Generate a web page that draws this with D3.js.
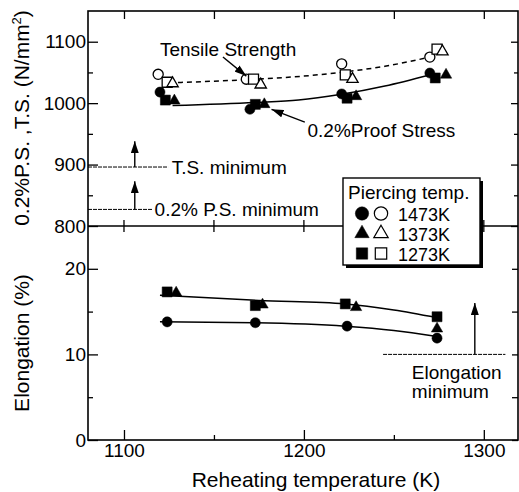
<!DOCTYPE html>
<html>
<head>
<meta charset="utf-8">
<script src="https://cdn.jsdelivr.net/npm/d3@7"></script>
<style>
  body { margin: 0; background: #fff; }
  text { font-family: "Liberation Sans", Arial, Helvetica, sans-serif; fill: #000; }
</style>
</head>
<body>
<script>
// ---- data ----
// tensile strength (open markers), N/mm2
var tsT1473 = [1119, 1168, 1221, 1270], tsV1473 = [1047, 1039, 1064, 1075];
var tsT1373 = [1127, 1176, 1227, 1277], tsV1373 = [1032, 1030, 1039, 1084];
var tsT1273 = [1124, 1172, 1223, 1274], tsV1273 = [1034, 1039, 1046, 1088];
// 0.2% proof stress (filled markers), N/mm2
var psT1473 = [1120, 1170, 1221, 1270], psV1473 = [1018, 990, 1015, 1049];
var psT1373 = [1128, 1178, 1229, 1279], psV1373 = [1004, 998, 1011, 1046];
var psT1273 = [1123, 1173, 1224, 1273], psV1273 = [1005, 998, 1008, 1041];
// elongation (filled markers), %
var elT1473 = [1124, 1173, 1224, 1274], elV1473 = [13.8, 13.7, 13.3, 11.9];
var elT1373 = [1129, 1177, 1229, 1274], elV1373 = [17.2, 15.8, 15.5, 13.0];
var elT1273 = [1124, 1173, 1223, 1274], elV1273 = [17.3, 15.7, 15.9, 14.4];

// fitted curves drawn through the points
var tsFitT = [1125, 1173, 1200, 1220, 1245, 1270], tsFitV = [1033, 1039, 1044, 1050, 1060, 1075];
var psFitT = [1127, 1173, 1197, 1220, 1245, 1270], psFitV = [996, 1001, 1005, 1014, 1028, 1046];
var elHiT = [1120, 1175, 1223, 1250, 1274], elHiV = [16.9, 16.3, 15.9, 15.2, 14.3];
var elLoT = [1120, 1173, 1223, 1250, 1274], elLoV = [13.8, 13.7, 13.3, 12.8, 12.1];

// minimum requirements
var tsMin = 896, psMin = 827, elMin = 10;

// ticks
var xMajor = [1100, 1200, 1300], xMinor = [1150, 1250];
var sMajor = [800, 900, 1000, 1100], sMinor = [850, 950, 1050];
var eMajor = [0, 10, 20], eMinor = [5, 15];

var zip = function(a, b) { return a.map(function(d, i) { return [d, b[i]]; }); };

// ---- svg ----
var W = 519, H = 492;
var svg = d3.select("body").append("svg").attr("width", W).attr("height", H);
svg.append("rect").attr("width", W).attr("height", H).attr("fill", "#fff");

var x = d3.scaleLinear().domain([1080, 1319]).range([88, 518]);
var yS = d3.scaleLinear().domain([800, 1150]).range([226, 11]);
var yE = d3.scaleLinear().domain([0, 25]).range([440, 226]);

var fontF = '"Liberation Sans", Arial, Helvetica, sans-serif';
var fmt = d3.format("d");

function styleAxis(g) {
  g.select(".domain").remove();
  g.attr("font-family", fontF).attr("font-size", 19);
  g.selectAll("line").attr("stroke", "#000").attr("stroke-width", 1.3);
}
var none = function() { return ""; };

// left axes
svg.append("g").attr("transform", "translate(88,0)")
  .call(d3.axisLeft(yS).tickValues(sMajor).tickFormat(fmt).tickSize(-10).tickPadding(2)).call(styleAxis);
svg.append("g").attr("transform", "translate(88,0)")
  .call(d3.axisLeft(yS).tickValues(sMinor).tickSize(-5).tickFormat(none)).call(styleAxis);
svg.append("g").attr("transform", "translate(88,0)")
  .call(d3.axisLeft(yE).tickValues(eMajor).tickFormat(fmt).tickSize(-10).tickPadding(2)).call(styleAxis);
svg.append("g").attr("transform", "translate(88,0)")
  .call(d3.axisLeft(yE).tickValues(eMinor).tickSize(-5).tickFormat(none)).call(styleAxis);

// right axes (ticks only)
svg.append("g").attr("transform", "translate(518,0)")
  .call(d3.axisRight(yS).tickValues(sMajor).tickSize(-7).tickFormat(none)).call(styleAxis);
svg.append("g").attr("transform", "translate(518,0)")
  .call(d3.axisRight(yS).tickValues(sMinor).tickSize(-4).tickFormat(none)).call(styleAxis);
svg.append("g").attr("transform", "translate(518,0)")
  .call(d3.axisRight(yE).tickValues(eMajor.concat(eMinor)).tickSize(-6).tickFormat(none)).call(styleAxis);

// bottom axis
svg.append("g").attr("transform", "translate(0,440)")
  .call(d3.axisBottom(x).tickValues(xMajor).tickFormat(fmt).tickSize(-10).tickPadding(3)).call(styleAxis);
svg.append("g").attr("transform", "translate(0,440)")
  .call(d3.axisBottom(x).tickValues(xMinor).tickSize(-5).tickFormat(none)).call(styleAxis);

// top axis (ticks only)
svg.append("g").attr("transform", "translate(0,11)")
  .call(d3.axisTop(x).tickValues(xMajor.concat(xMinor)).tickSize(-8).tickFormat(none)).call(styleAxis);

// ticks crossing the panel separator
svg.append("g").selectAll("line").data(xMajor.concat(xMinor)).enter().append("line")
  .attr("x1", function(d) { return x(d); }).attr("x2", function(d) { return x(d); })
  .attr("y1", yS(800) - 6).attr("y2", yS(800) + 6)
  .attr("stroke", "#000").attr("stroke-width", 1.3);

// frame
var frame = svg.append("g").attr("fill", "none").attr("stroke", "#000").attr("stroke-width", 1.6);
frame.append("rect").attr("x", 88).attr("y", 11).attr("width", 430).attr("height", 429);
frame.append("line").attr("x1", 88).attr("x2", 518).attr("y1", yS(800)).attr("y2", yS(800));

// ---- fitted curves ----
function fitLine(T, V, y, dash) {
  svg.append("path")
    .datum(zip(T, V))
    .attr("fill", "none").attr("stroke", "#000").attr("stroke-width", 1.5)
    .attr("stroke-dasharray", dash)
    .attr("d", d3.line().curve(d3.curveMonotoneX)
      .x(function(d) { return x(d[0]); })
      .y(function(d) { return y(d[1]); }));
}
fitLine(tsFitT, tsFitV, yS, "5,4");
fitLine(psFitT, psFitV, yS, null);
fitLine(elHiT, elHiV, yE, null);
fitLine(elLoT, elLoV, yE, null);

// ---- markers ----
var shapes = { c: [d3.symbolCircle, 80], t: [d3.symbolTriangle, 56], s: [d3.symbolSquare, 100] };
function markers(T, V, y, shape, open) {
  svg.append("g").selectAll("path").data(zip(T, V)).enter().append("path")
    .attr("transform", function(d) { return "translate(" + x(d[0]) + "," + y(d[1]) + ")"; })
    .attr("d", d3.symbol().type(shapes[shape][0]).size(shapes[shape][1]))
    .attr("fill", open ? "#fff" : "#000")
    .attr("stroke", "#000").attr("stroke-width", open ? 1.3 : 0.5);
}
markers(psT1473, psV1473, yS, "c", false);
markers(psT1273, psV1273, yS, "s", false);
markers(psT1373, psV1373, yS, "t", false);
markers(tsT1473, tsV1473, yS, "c", true);
markers(tsT1273, tsV1273, yS, "s", true);
markers(tsT1373, tsV1373, yS, "t", true);
markers(elT1473, elV1473, yE, "c", false);
markers(elT1273, elV1273, yE, "s", false);
markers(elT1373, elV1373, yE, "t", false);

// ---- annotations ----
svg.append("defs").append("marker")
  .attr("id", "head").attr("viewBox", "0 0 12 8").attr("refX", 12).attr("refY", 4)
  .attr("markerWidth", 12).attr("markerHeight", 8).attr("markerUnits", "userSpaceOnUse")
  .attr("orient", "auto")
  .append("path").attr("d", "M0,0L12,4L0,8Z").attr("fill", "#000");

function arrow(x1, y1, x2, y2) {
  svg.append("line").attr("x1", x1).attr("y1", y1).attr("x2", x2).attr("y2", y2)
    .attr("stroke", "#000").attr("stroke-width", 1.4).attr("marker-end", "url(#head)");
}
function label(t, px, py, size) {
  return svg.append("text").attr("x", px).attr("y", py).attr("font-size", size || 19).text(t);
}

label("Tensile Strength", x(1120), yS(1077));
arrow(x(1155), yS(1075), x(1168), yS(1044));
label("0.2%Proof Stress", x(1202), yS(945));
arrow(x(1200.5), yS(969), x(1182), yS(990));

// minimum lines
var minLine = function(x1, x2, yy) {
  svg.append("line").attr("x1", x1).attr("x2", x2).attr("y1", yy).attr("y2", yy)
    .attr("stroke", "#000").attr("stroke-width", 1).attr("stroke-dasharray", "4,1");
};
minLine(88, x(1124.5), yS(tsMin));
label("T.S. minimum", x(1126.5), yS(tsMin) + 7);
arrow(x(1106), yS(tsMin), x(1106), yS(938));
minLine(88, x(1116), yS(psMin));
label("0.2% P.S. minimum", x(1117), yS(psMin) + 7);
arrow(x(1106), yS(psMin), x(1106), yS(873));

minLine(x(1244), x(1312), yE(elMin));
arrow(x(1295), yE(elMin), x(1295), yE(16));
label("Elongation", x(1260), yE(7.1));
label("minimum", x(1260), yE(4.9));

// ---- legend ----
var lg = svg.append("g");
lg.append("rect").attr("x", 346).attr("y", 181).attr("width", 137).attr("height", 87).attr("fill", "#000");
lg.append("rect").attr("x", 343).attr("y", 178).attr("width", 137).attr("height", 87)
  .attr("fill", "#fff").attr("stroke", "#000").attr("stroke-width", 1.4);
lg.append("text").attr("x", 348).attr("y", 199).attr("font-size", 19).text("Piercing temp.");
var legendRows = [["c", "1473K"], ["t", "1373K"], ["s", "1273K"]];
var legendSize = { c: 140, t: 90, s: 130 };
legendRows.forEach(function(r, i) {
  var yy = 213.5 + i * 20;
  [false, true].forEach(function(open, j) {
    lg.append("path")
      .attr("transform", "translate(" + (362 + j * 19) + "," + yy + ")")
      .attr("d", d3.symbol().type(shapes[r[0]][0]).size(legendSize[r[0]]))
      .attr("fill", open ? "#fff" : "#000").attr("stroke", "#000").attr("stroke-width", open ? 1.2 : 0.5);
  });
  lg.append("text").attr("x", 398).attr("y", yy + 7).attr("font-size", 18).text(r[1]);
});

// ---- axis titles ----
svg.append("text").attr("text-anchor", "middle").attr("font-size", 21)
  .attr("transform", "translate(29,118) rotate(-90)")
  .html('0.2%P.S. ,T.S. (N/mm<tspan dy="-8" font-size="13">2</tspan><tspan dy="8">)</tspan>');
svg.append("text").attr("text-anchor", "middle").attr("font-size", 21)
  .attr("transform", "translate(29,343) rotate(-90)")
  .text("Elongation (%)");
svg.append("text").attr("text-anchor", "middle").attr("font-size", 21)
  .attr("x", 316).attr("y", 487)
  .text("Reheating temperature (K)");
</script>
</body>
</html>
